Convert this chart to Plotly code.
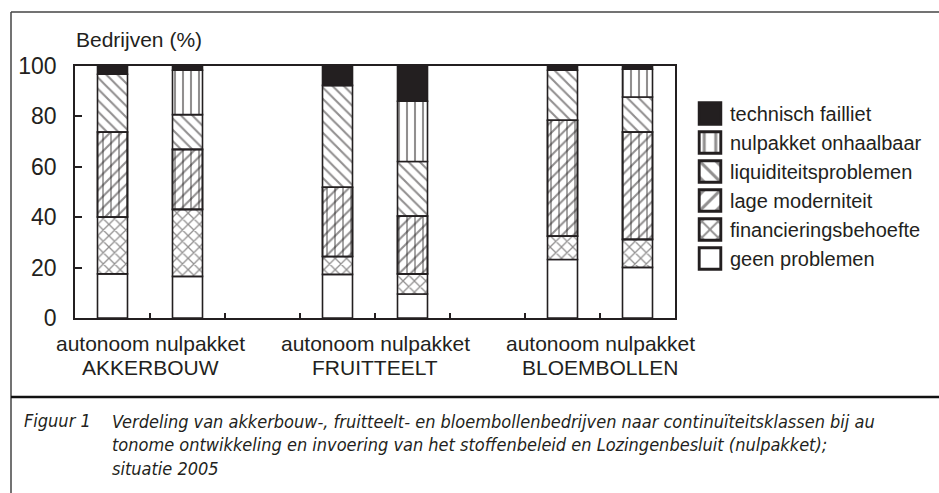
import plotly.graph_objects as go
import numpy as np

# ---- data ----
slots = [0.5, 1.5, 3.5, 4.5, 6.5, 7.5]          # bar slots on the 0..8 axis
scenario_label = "autonoom nulpakket"
groups = ["AKKERBOUW", "FRUITTEELT", "BLOEMBOLLEN"]
group_pos = [1, 4, 7]
y_ticks = [0, 20, 40, 60, 80, 100]

classes = ["geen problemen", "financieringsbehoefte", "lage moderniteit",
           "liquiditeitsproblemen", "nulpakket onhaalbaar", "technisch failliet"]
geen_problemen        = [17.5, 16.5, 17.3,  9.5, 23.2, 20.1]
financieringsbehoefte = [22.6, 26.6,  7.1,  8.0,  9.3, 11.1]
lage_moderniteit      = [33.7, 23.8, 27.5, 23.0, 46.0, 42.6]
liquiditeitsproblemen = [22.9, 13.8, 40.4, 21.6, 19.8, 13.9]
nulpakket_onhaalbaar  = [0.0,  17.6,  0.0, 23.9,  0.0, 11.0]
technisch_failliet    = [3.3,   1.7,  7.7, 14.0,  1.7,  1.3]

series = [geen_problemen, financieringsbehoefte, lage_moderniteit,
          liquiditeitsproblemen, nulpakket_onhaalbaar, technisch_failliet]

INK = "#231f20"
patterns = ["", "x", "/", "\\", "|", ""]
fills = ["white", "white", "white", "white", "white", INK]

fig = go.Figure()
base = np.zeros(len(slots))
bases = []
for name, vals, shp, fc in zip(classes, series, patterns, fills):
    vals = np.array(vals, dtype=float)
    bases.append(base.copy())
    fig.add_trace(go.Bar(
        x=slots, y=vals, base=base.copy(), name=name, width=0.4,
        marker=dict(color=fc, line=dict(color=INK, width=1.6),
                    pattern=dict(shape=shp, fgcolor=INK, bgcolor=fc, size=8,
                                 solidity=0.3 if shp == "x" else 0.26)),
    ))
    base = base + vals

# extra vertical hatching on 'lage moderniteit' (combined pattern)
fig.add_trace(go.Bar(
    x=slots, y=lage_moderniteit, base=bases[2], width=0.4, showlegend=False,
    marker=dict(color="rgba(0,0,0,0)", line=dict(color=INK, width=1.6),
                pattern=dict(shape="|", fgcolor=INK, bgcolor="rgba(0,0,0,0)", size=8, solidity=0.2)),
))

H = 252.0
def py(p):
    return (318 - p) / H
def px(x):
    return (x - 75) / 600.0

anns = []
anns.append(dict(text="Bedrijven (%)", x=px(74), y=py(40), xref="paper", yref="paper",
                 xanchor="left", yanchor="middle", showarrow=False,
                 font=dict(size=21, color=INK)))
for g, gx in zip(groups, group_pos):
    anns.append(dict(text=scenario_label, x=gx, y=py(343), xref="x", yref="paper",
                     xanchor="center", yanchor="middle", showarrow=False,
                     font=dict(size=21, color=INK)))
    anns.append(dict(text=g, x=gx, y=py(367), xref="x", yref="paper",
                     xanchor="center", yanchor="middle", showarrow=False,
                     font=dict(size=21, color=INK)))

cap_font = dict(size=18, color=INK,
                family="Liberation Sans Narrow, DejaVu Sans Condensed, Arial Narrow, sans-serif")
caption = ["Verdeling van akkerbouw-, fruitteelt- en bloembollenbedrijven naar continuïteitsklassen bij au",
           "tonome ontwikkeling en invoering van het stoffenbeleid en Lozingenbesluit (nulpakket);",
           "situatie 2005"]
anns.append(dict(text="<i>Figuur 1</i>", x=px(22), y=py(421), xref="paper", yref="paper",
                 xanchor="left", yanchor="middle", showarrow=False, font=cap_font))
anns.append(dict(text="<br>".join("<i>" + l + "</i>" for l in caption), x=px(110), y=py(409),
                 xref="paper", yref="paper", xanchor="left", yanchor="top", align="left",
                 showarrow=False, font=cap_font))

shapes = [
    dict(type="line", xref="paper", yref="paper", x0=px(11), x1=px(945), y0=py(12), y1=py(12),
         line=dict(color="#444", width=1.5)),
    dict(type="line", xref="paper", yref="paper", x0=px(11), x1=px(11), y0=py(12), y1=py(500),
         line=dict(color="#444", width=1.5)),
    dict(type="line", xref="paper", yref="paper", x0=px(11), x1=px(945), y0=py(397), y1=py(397),
         line=dict(color="#111", width=2.5)),
]

fig.update_layout(
    width=939, height=493,
    margin=dict(l=75, r=264, t=66, b=175),
    barmode="overlay",
    plot_bgcolor="white", paper_bgcolor="white",
    font=dict(family="Liberation Sans, Arial, sans-serif", color=INK),
    showlegend=True,
    legend=dict(x=px(690), y=py(94), xanchor="left", yanchor="top", traceorder="reversed",
                font=dict(size=20, color=INK), bgcolor="rgba(0,0,0,0)"),
    annotations=anns, shapes=shapes,
    xaxis=dict(range=[0, 8], tickvals=[1, 2, 3, 4, 5, 6, 7], showticklabels=False,
               ticks="inside", ticklen=5, tickwidth=1.5, tickcolor=INK,
               showline=True, linecolor=INK, linewidth=1.5, mirror=True,
               showgrid=False, zeroline=False, fixedrange=True),
    yaxis=dict(range=[0, 100], tickvals=y_ticks, ticks="inside", ticklen=7, tickwidth=1.5,
               tickcolor=INK, showline=True, linecolor=INK, linewidth=1.5, mirror=True,
               showgrid=False, zeroline=False, tickfont=dict(size=23, color=INK),
               ticklabelstandoff=12, fixedrange=True),
)

post = """
document.body.style.margin = '0';
document.querySelectorAll('.legendpoints path').forEach(function(p){
  var t = p.getAttribute('transform') || '';
  p.setAttribute('transform', t + ' scale(1.8)');
});
"""
fig.write_html("out.html", post_script=post, config={"displayModeBar": False})
